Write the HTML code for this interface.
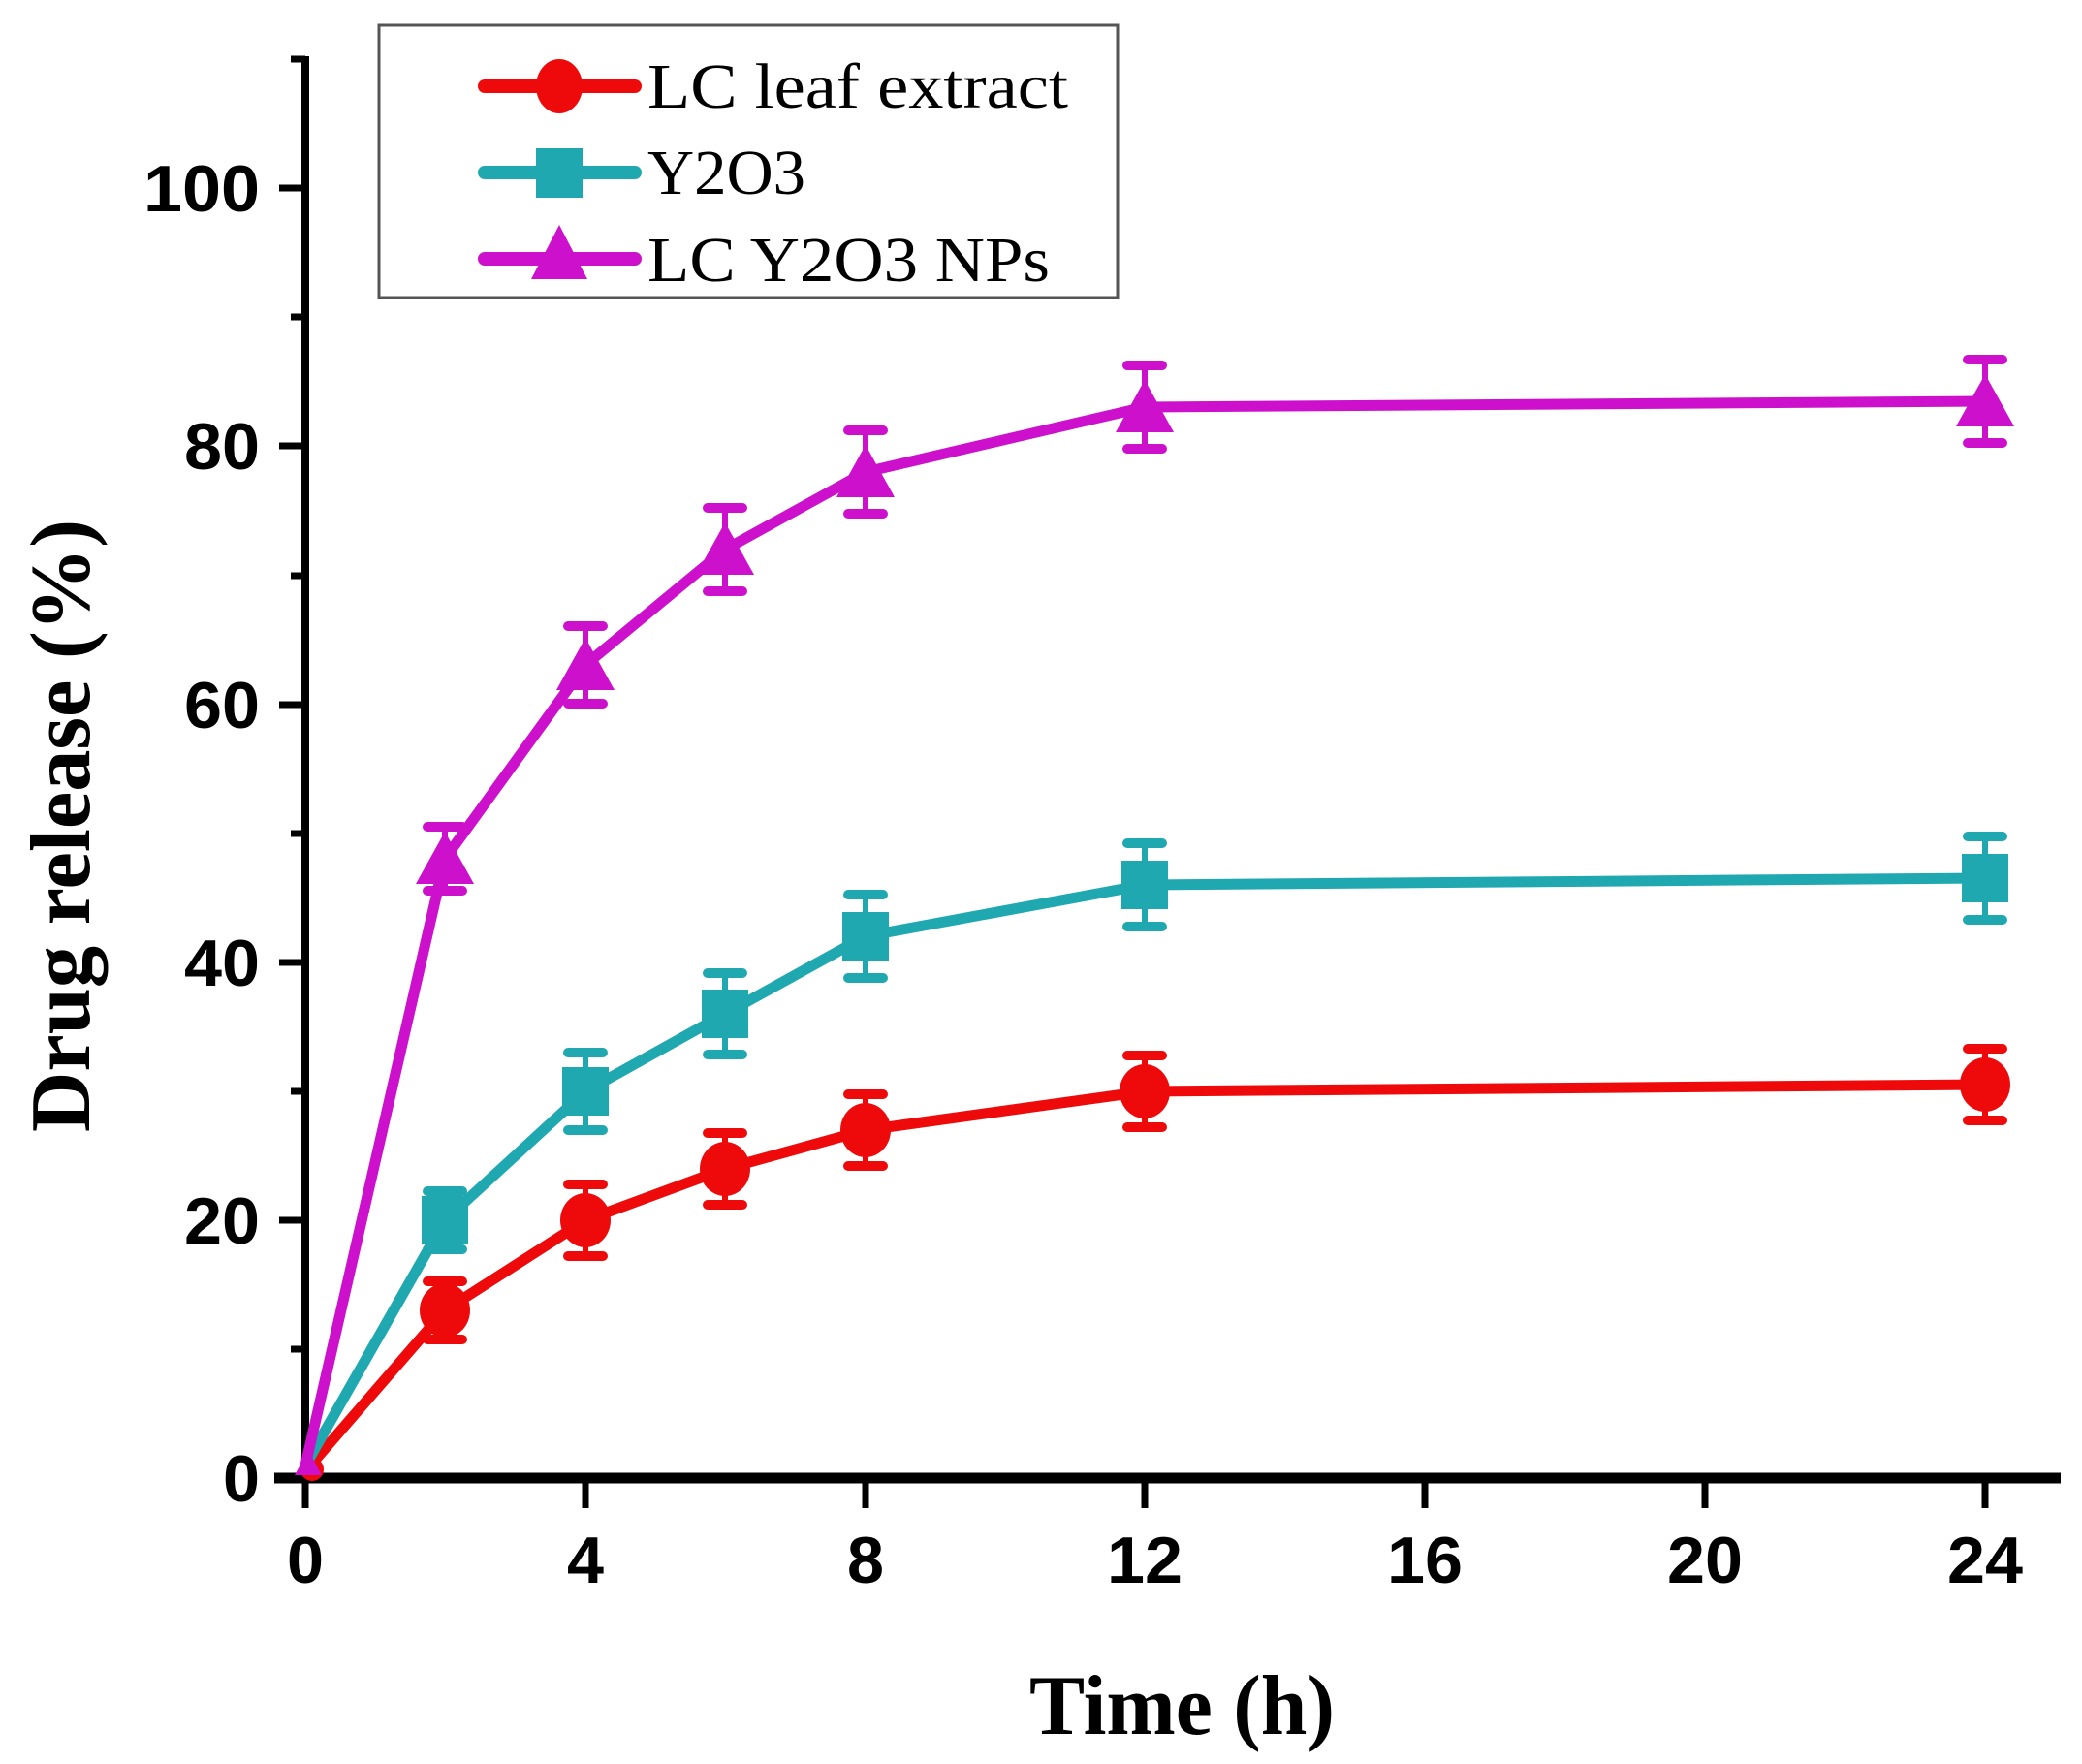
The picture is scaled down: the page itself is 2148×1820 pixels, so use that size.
<!DOCTYPE html>
<html><head><meta charset="utf-8"><style>html,body{margin:0;padding:0;background:#fff}svg{display:block}</style></head>
<body>
<svg width="2148" height="1820" viewBox="0 0 2148 1820" xmlns="http://www.w3.org/2000/svg">
<rect width="2148" height="1820" fill="#fff"/>
<rect x="391" y="26" width="762" height="281" fill="#fff" stroke="#555" stroke-width="3"/>
<g font-family="Liberation Serif, serif" font-size="66" fill="#000">
<text x="668" y="111" textLength="434" lengthAdjust="spacingAndGlyphs">LC leaf extract</text>
<text x="668" y="200" textLength="163" lengthAdjust="spacingAndGlyphs">Y2O3</text>
<text x="668" y="290" textLength="415" lengthAdjust="spacingAndGlyphs">LC Y2O3 NPs</text>
</g>
<line x1="500" y1="89" x2="655" y2="89" stroke="#ee0a0a" stroke-width="14" stroke-linecap="round"/>
<ellipse cx="577" cy="89" rx="24" ry="28" fill="#ee0a0a"/>
<line x1="500" y1="178" x2="655" y2="178" stroke="#20a8b0" stroke-width="14" stroke-linecap="round"/>
<rect x="553" y="153" width="48" height="51" fill="#20a8b0"/>
<line x1="500" y1="267" x2="655" y2="267" stroke="#cc10cc" stroke-width="14" stroke-linecap="round"/>
<polygon points="577,232 548,288 606,288" fill="#cc10cc"/>

<g stroke="#000">
<line x1="315" y1="58" x2="315" y2="1530" stroke-width="8"/>
<line x1="283" y1="1525" x2="2126" y2="1525" stroke-width="11"/>
<g stroke-width="7">
<line x1="288" y1="1259" x2="315" y2="1259"/><line x1="288" y1="993" x2="315" y2="993"/>
<line x1="288" y1="727" x2="315" y2="727"/><line x1="288" y1="460" x2="315" y2="460"/>
<line x1="288" y1="194" x2="315" y2="194"/><line x1="288" y1="1525" x2="315" y2="1525"/>
<line x1="300" y1="1392" x2="315" y2="1392"/><line x1="300" y1="1126" x2="315" y2="1126"/>
<line x1="300" y1="860" x2="315" y2="860"/><line x1="300" y1="594" x2="315" y2="594"/>
<line x1="300" y1="327" x2="315" y2="327"/><line x1="300" y1="61" x2="315" y2="61"/>
<line x1="315" y1="1525" x2="315" y2="1556"/><line x1="604" y1="1525" x2="604" y2="1556"/>
<line x1="893" y1="1525" x2="893" y2="1556"/><line x1="1181" y1="1525" x2="1181" y2="1556"/>
<line x1="1470" y1="1525" x2="1470" y2="1556"/><line x1="1759" y1="1525" x2="1759" y2="1556"/>
<line x1="2048" y1="1525" x2="2048" y2="1556"/>
</g></g>
<g font-family="Liberation Sans, sans-serif" font-weight="bold" font-size="68" fill="#000" text-anchor="end">
<text x="268" y="1549" textLength="38" lengthAdjust="spacingAndGlyphs">0</text>
<text x="268" y="1283" textLength="78" lengthAdjust="spacingAndGlyphs">20</text>
<text x="268" y="1017" textLength="78" lengthAdjust="spacingAndGlyphs">40</text>
<text x="268" y="751" textLength="78" lengthAdjust="spacingAndGlyphs">60</text>
<text x="268" y="484" textLength="78" lengthAdjust="spacingAndGlyphs">80</text>
<text x="268" y="218" textLength="120" lengthAdjust="spacingAndGlyphs">100</text>
</g>
<g font-family="Liberation Sans, sans-serif" font-weight="bold" font-size="68" fill="#000" text-anchor="middle">
<text x="315" y="1633" textLength="38" lengthAdjust="spacingAndGlyphs">0</text>
<text x="604" y="1633" textLength="38" lengthAdjust="spacingAndGlyphs">4</text>
<text x="893" y="1633" textLength="38" lengthAdjust="spacingAndGlyphs">8</text>
<text x="1181" y="1633" textLength="78" lengthAdjust="spacingAndGlyphs">12</text>
<text x="1470" y="1633" textLength="78" lengthAdjust="spacingAndGlyphs">16</text>
<text x="1759" y="1633" textLength="78" lengthAdjust="spacingAndGlyphs">20</text>
<text x="2048" y="1633" textLength="78" lengthAdjust="spacingAndGlyphs">24</text>
</g>
<text x="1062" y="1789" font-family="Liberation Serif, serif" font-weight="bold" font-size="88" textLength="315" lengthAdjust="spacingAndGlyphs">Time (h)</text>
<text transform="translate(92,1168) rotate(-90)" font-family="Liberation Serif, serif" font-weight="bold" font-size="88" textLength="632" lengthAdjust="spacingAndGlyphs">Drug release (%)</text>

<g stroke="#ee0a0a" fill="#ee0a0a">
<polyline fill="none" stroke-width="11" stroke-linejoin="round" points="315,1518 459,1352 604,1259 748,1206 893,1166 1181,1126 2048,1119"/>
<g stroke-width="6">
<line x1="459" y1="1322" x2="459" y2="1382"/><line x1="604" y1="1222" x2="604" y2="1296"/>
<line x1="748" y1="1169" x2="748" y2="1243"/><line x1="893" y1="1129" x2="893" y2="1203"/>
<line x1="1181" y1="1089" x2="1181" y2="1163"/><line x1="2048" y1="1082" x2="2048" y2="1156"/>
</g>
<g stroke-width="10" stroke-linecap="round">
<line x1="441" y1="1322" x2="477" y2="1322"/><line x1="441" y1="1382" x2="477" y2="1382"/>
<line x1="586" y1="1222" x2="622" y2="1222"/><line x1="586" y1="1296" x2="622" y2="1296"/>
<line x1="730" y1="1169" x2="766" y2="1169"/><line x1="730" y1="1243" x2="766" y2="1243"/>
<line x1="875" y1="1129" x2="911" y2="1129"/><line x1="875" y1="1203" x2="911" y2="1203"/>
<line x1="1163" y1="1089" x2="1199" y2="1089"/><line x1="1163" y1="1163" x2="1199" y2="1163"/>
<line x1="2030" y1="1082" x2="2066" y2="1082"/><line x1="2030" y1="1156" x2="2066" y2="1156"/>
</g>
<g stroke="none">
<ellipse cx="459" cy="1352" rx="26" ry="28"/><ellipse cx="604" cy="1259" rx="26" ry="28"/>
<ellipse cx="748" cy="1206" rx="26" ry="28"/><ellipse cx="893" cy="1166" rx="26" ry="28"/>
<ellipse cx="1181" cy="1126" rx="26" ry="28"/><ellipse cx="2048" cy="1119" rx="26" ry="28"/>
<circle cx="322" cy="1516" r="12"/>
</g></g>

<g stroke="#20a8b0" fill="#20a8b0">
<polyline fill="none" stroke-width="11" stroke-linejoin="round" points="315,1512 459,1259 604,1126 748,1046 893,966 1181,913 2048,906"/>
<g stroke-width="6">
<line x1="459" y1="1229" x2="459" y2="1289"/><line x1="604" y1="1086" x2="604" y2="1166"/>
<line x1="748" y1="1004" x2="748" y2="1088"/><line x1="893" y1="923" x2="893" y2="1009"/>
<line x1="1181" y1="870" x2="1181" y2="956"/><line x1="2048" y1="863" x2="2048" y2="949"/>
</g>
<g stroke-width="10" stroke-linecap="round">
<line x1="441" y1="1229" x2="477" y2="1229"/><line x1="441" y1="1289" x2="477" y2="1289"/>
<line x1="586" y1="1086" x2="622" y2="1086"/><line x1="586" y1="1166" x2="622" y2="1166"/>
<line x1="730" y1="1004" x2="766" y2="1004"/><line x1="730" y1="1088" x2="766" y2="1088"/>
<line x1="875" y1="923" x2="911" y2="923"/><line x1="875" y1="1009" x2="911" y2="1009"/>
<line x1="1163" y1="870" x2="1199" y2="870"/><line x1="1163" y1="956" x2="1199" y2="956"/>
<line x1="2030" y1="863" x2="2066" y2="863"/><line x1="2030" y1="949" x2="2066" y2="949"/>
</g>
<g stroke="none">
<rect x="435" y="1234" width="48" height="50"/><rect x="580" y="1101" width="48" height="50"/>
<rect x="724" y="1021" width="48" height="50"/><rect x="869" y="941" width="48" height="50"/>
<rect x="1157" y="888" width="48" height="50"/><rect x="2024" y="881" width="48" height="50"/>
</g></g>

<g stroke="#cc10cc" fill="#cc10cc">
<polyline fill="none" stroke-width="11" stroke-linejoin="round" points="315,1512 459,886 604,686 748,567 893,487 1181,420 2048,414"/>
<g stroke-width="6">
<line x1="459" y1="853" x2="459" y2="919"/><line x1="604" y1="646" x2="604" y2="726"/>
<line x1="748" y1="524" x2="748" y2="610"/><line x1="893" y1="444" x2="893" y2="530"/>
<line x1="1181" y1="377" x2="1181" y2="463"/><line x1="2048" y1="371" x2="2048" y2="457"/>
</g>
<g stroke-width="10" stroke-linecap="round">
<line x1="441" y1="853" x2="477" y2="853"/><line x1="441" y1="919" x2="477" y2="919"/>
<line x1="586" y1="646" x2="622" y2="646"/><line x1="586" y1="726" x2="622" y2="726"/>
<line x1="730" y1="524" x2="766" y2="524"/><line x1="730" y1="610" x2="766" y2="610"/>
<line x1="875" y1="444" x2="911" y2="444"/><line x1="875" y1="530" x2="911" y2="530"/>
<line x1="1163" y1="377" x2="1199" y2="377"/><line x1="1163" y1="463" x2="1199" y2="463"/>
<line x1="2030" y1="371" x2="2066" y2="371"/><line x1="2030" y1="457" x2="2066" y2="457"/>
</g>
<g stroke="none">
<polygon points="459,858 429,912 489,912"/><polygon points="604,658 574,712 634,712"/>
<polygon points="748,539 718,593 778,593"/><polygon points="893,459 863,513 923,513"/>
<polygon points="1181,392 1151,446 1211,446"/><polygon points="2048,386 2018,440 2078,440"/>
<polygon points="318,1496 304,1522 332,1522"/>
</g></g>
</svg>
</body></html>
